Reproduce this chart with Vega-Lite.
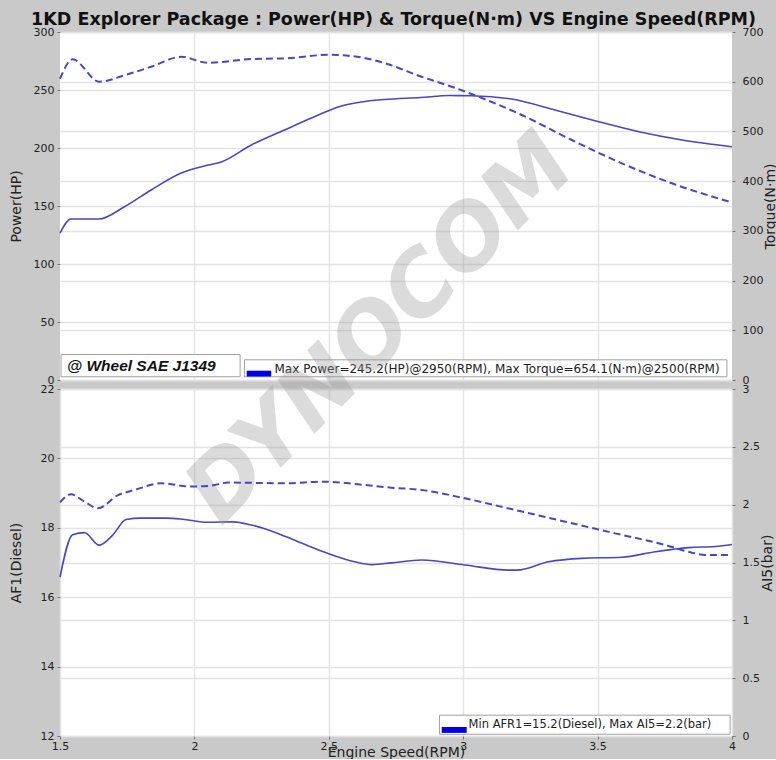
{
  "$schema": "https://vega.github.io/schema/vega-lite/v6.json",
  "background": "#c9c9c9",
  "padding": {"left": 9, "top": 10, "right": 0, "bottom": 0},
  "bounds": "flush",
  "title": {
    "text": "1KD Explorer Package  : Power(HP) & Torque(N·m) VS Engine Speed(RPM)",
    "font": "DejaVu Sans",
    "fontSize": 17.5,
    "fontWeight": "bold",
    "color": "#111111",
    "anchor": "middle",
    "offset": -2
  },
  "datasets": {
    "power": [
      {"rpm": 1.5, "v": 126.7}, {"rpm": 1.541, "v": 138.8}, {"rpm": 1.645, "v": 138.8},
      {"rpm": 1.738, "v": 149.1}, {"rpm": 1.839, "v": 163.8}, {"rpm": 1.951, "v": 178.4},
      {"rpm": 2.051, "v": 185.3}, {"rpm": 2.1, "v": 188.0}, {"rpm": 2.212, "v": 202.6},
      {"rpm": 2.335, "v": 215.5}, {"rpm": 2.461, "v": 228.5}, {"rpm": 2.547, "v": 236.2},
      {"rpm": 2.621, "v": 239.7}, {"rpm": 2.707, "v": 241.8}, {"rpm": 2.84, "v": 243.5},
      {"rpm": 2.95, "v": 245.2}, {"rpm": 3.031, "v": 245.1}, {"rpm": 3.18, "v": 242.2},
      {"rpm": 3.341, "v": 232.8}, {"rpm": 3.49, "v": 223.5}, {"rpm": 3.654, "v": 214.0},
      {"rpm": 3.814, "v": 206.9}, {"rpm": 4.0, "v": 201.1}
    ],
    "torque": [
      {"rpm": 1.5, "v": 606}, {"rpm": 1.547, "v": 645}, {"rpm": 1.646, "v": 600},
      {"rpm": 1.74, "v": 613}, {"rpm": 1.839, "v": 630}, {"rpm": 1.951, "v": 650},
      {"rpm": 2.05, "v": 638}, {"rpm": 2.212, "v": 645.7}, {"rpm": 2.336, "v": 647},
      {"rpm": 2.5, "v": 654.1}, {"rpm": 2.62, "v": 649}, {"rpm": 2.71, "v": 637},
      {"rpm": 2.845, "v": 610}, {"rpm": 2.957, "v": 590}, {"rpm": 3.031, "v": 575.3},
      {"rpm": 3.218, "v": 533}, {"rpm": 3.404, "v": 482.8}, {"rpm": 3.59, "v": 435.9},
      {"rpm": 3.776, "v": 395.7}, {"rpm": 3.989, "v": 358.7}
    ],
    "afr": [
      {"rpm": 1.5, "v": 16.58}, {"rpm": 1.547, "v": 17.8}, {"rpm": 1.591, "v": 17.86},
      {"rpm": 1.646, "v": 17.5}, {"rpm": 1.696, "v": 17.79}, {"rpm": 1.746, "v": 18.24},
      {"rpm": 1.802, "v": 18.28}, {"rpm": 1.895, "v": 18.28}, {"rpm": 1.963, "v": 18.24},
      {"rpm": 2.05, "v": 18.16}, {"rpm": 2.143, "v": 18.17}, {"rpm": 2.212, "v": 18.08},
      {"rpm": 2.286, "v": 17.91}, {"rpm": 2.386, "v": 17.6}, {"rpm": 2.497, "v": 17.26},
      {"rpm": 2.597, "v": 17.02}, {"rpm": 2.659, "v": 16.94}, {"rpm": 2.733, "v": 16.99},
      {"rpm": 2.845, "v": 17.07}, {"rpm": 3.006, "v": 16.93}, {"rpm": 3.168, "v": 16.78},
      {"rpm": 3.2, "v": 16.78}, {"rpm": 3.317, "v": 17.02}, {"rpm": 3.441, "v": 17.12},
      {"rpm": 3.59, "v": 17.15}, {"rpm": 3.714, "v": 17.31}, {"rpm": 3.839, "v": 17.43},
      {"rpm": 3.938, "v": 17.46}, {"rpm": 4.0, "v": 17.52}
    ],
    "ai5": [
      {"rpm": 1.5, "v": 2.02}, {"rpm": 1.541, "v": 2.09}, {"rpm": 1.591, "v": 2.026},
      {"rpm": 1.641, "v": 1.969}, {"rpm": 1.716, "v": 2.083}, {"rpm": 1.777, "v": 2.127},
      {"rpm": 1.876, "v": 2.185}, {"rpm": 1.988, "v": 2.156}, {"rpm": 2.063, "v": 2.165},
      {"rpm": 2.125, "v": 2.191}, {"rpm": 2.336, "v": 2.185}, {"rpm": 2.485, "v": 2.199},
      {"rpm": 2.609, "v": 2.176}, {"rpm": 2.733, "v": 2.147}, {"rpm": 2.845, "v": 2.127},
      {"rpm": 3.006, "v": 2.055}, {"rpm": 3.193, "v": 1.954}, {"rpm": 3.379, "v": 1.853},
      {"rpm": 3.565, "v": 1.752}, {"rpm": 3.752, "v": 1.651}, {"rpm": 3.851, "v": 1.585},
      {"rpm": 3.9, "v": 1.565}, {"rpm": 4.0, "v": 1.565}
    ]
  },
  "config": {
    "view": {"fill": "white", "stroke": null},
    "axis": {
      "labelFont": "DejaVu Sans", "labelFontSize": 11, "labelColor": "#222222",
      "titleFont": "DejaVu Sans", "titleFontSize": 14, "titleFontWeight": "normal", "titleColor": "#222222",
      "domain": false, "tickColor": "#777777", "tickSize": 3,
      "gridColor": "#e3e3e3", "gridWidth": 1.5,
      "labelFlush": false, "labelOverlap": false, "labelBound": false
    }
  },
  "spacing": 9,
  "vconcat": [
    {
      "width": 672, "height": 348,
      "layer": [
        {
          "layer": [
            {
              "data": {"name": "power"},
              "mark": {"type": "line", "color": "#4646c8", "strokeWidth": 1.6, "interpolate": "monotone"},
              "encoding": {
                "x": {"field": "rpm", "type": "quantitative",
                      "scale": {"domain": [1.5, 4], "nice": false, "zero": false},
                      "axis": {"grid": true, "labels": false, "ticks": false, "title": null, "values": [2, 2.5, 3, 3.5]}},
                "y": {"field": "v", "type": "quantitative",
                      "scale": {"domain": [0, 300], "nice": false},
                      "axis": {"orient": "left", "title": "Power(HP)", "values": [0, 50, 100, 150, 200, 250, 300], "grid": true, "labelPadding": 3, "titlePadding": 10}}
              }
            },
            {
              "data": {"values": [{"x1": 1.504, "x2": 2.17, "y1": 2.8, "y2": 22}, {"x1": 2.186, "x2": 3.981, "y1": 2.8, "y2": 17.4}]},
              "mark": {"type": "rect", "fill": "white", "stroke": "#a0a0a0", "strokeWidth": 1},
              "encoding": {
                "x": {"field": "x1", "type": "quantitative"}, "x2": {"field": "x2"},
                "y": {"field": "y1", "type": "quantitative"}, "y2": {"field": "y2"}
              }
            },
            {
              "data": {"values": [{"x1": 2.1945, "x2": 2.2858, "y1": 3.0, "y2": 8.0}]},
              "mark": {"type": "rect", "fill": "#0000e6"},
              "encoding": {
                "x": {"field": "x1", "type": "quantitative"}, "x2": {"field": "x2"},
                "y": {"field": "y1", "type": "quantitative"}, "y2": {"field": "y2"}
              }
            },
            {
              "data": {"values": [{"x": 1.526, "y": 12.2, "t": "@ Wheel SAE J1349"}]},
              "mark": {"type": "text", "align": "left", "baseline": "middle", "font": "Liberation Sans", "fontSize": 15.5, "fontWeight": "bold", "fontStyle": "italic", "color": "#111111"},
              "encoding": {
                "x": {"field": "x", "type": "quantitative"}, "y": {"field": "y", "type": "quantitative"}, "text": {"field": "t"}
              }
            },
            {
              "data": {"values": [{"x": 2.298, "y": 9.5, "t": "Max Power=245.2(HP)@2950(RPM), Max Torque=654.1(N·m)@2500(RPM)"}]},
              "mark": {"type": "text", "align": "left", "baseline": "middle", "font": "DejaVu Sans", "fontSize": 12, "color": "#222222"},
              "encoding": {
                "x": {"field": "x", "type": "quantitative"}, "y": {"field": "y", "type": "quantitative"}, "text": {"field": "t"}
              }
            }
          ]
        },
        {
          "data": {"name": "torque"},
          "mark": {"type": "line", "color": "#4646c8", "strokeWidth": 2, "strokeDash": [7, 4], "interpolate": "monotone"},
          "encoding": {
            "x": {"field": "rpm", "type": "quantitative"},
            "y": {"field": "v", "type": "quantitative",
                  "scale": {"domain": [0, 700], "nice": false},
                  "axis": {"orient": "right", "title": "Torque(N·m)", "titleAngle": 270, "values": [0, 100, 200, 300, 400, 500, 600, 700], "grid": true, "labelPadding": 7, "titlePadding": 15}}
          }
        }
      ],
      "resolve": {"scale": {"y": "independent"}}
    },
    {
      "width": 672, "height": 347,
      "layer": [
        {
          "layer": [
            {
              "data": {"name": "afr"},
              "mark": {"type": "line", "color": "#4646c8", "strokeWidth": 1.6, "interpolate": "monotone"},
              "encoding": {
                "x": {"field": "rpm", "type": "quantitative",
                      "scale": {"domain": [1.5, 4], "nice": false, "zero": false},
                      "axis": {"grid": true, "title": "Engine Speed(RPM)", "values": [1.5, 2, 2.5, 3, 3.5, 4], "format": "~g", "labelPadding": 1, "titleY": 16, "titleBaseline": "middle"}},
                "y": {"field": "v", "type": "quantitative",
                      "scale": {"domain": [12, 22], "nice": false, "zero": false},
                      "axis": {"orient": "left", "title": "AF1(Diesel)", "values": [12, 14, 16, 18, 20, 22], "grid": true, "labelPadding": 3, "titlePadding": 17}}
              }
            },
            {
              "data": {"values": [{"x1": 2.912, "x2": 3.993, "y1": 12.05, "y2": 12.6}]},
              "mark": {"type": "rect", "fill": "white", "stroke": "#a0a0a0", "strokeWidth": 1},
              "encoding": {
                "x": {"field": "x1", "type": "quantitative"}, "x2": {"field": "x2"},
                "y": {"field": "y1", "type": "quantitative"}, "y2": {"field": "y2"}
              }
            },
            {
              "data": {"values": [{"x1": 2.92, "x2": 3.013, "y1": 12.09, "y2": 12.26}]},
              "mark": {"type": "rect", "fill": "#0000e6"},
              "encoding": {
                "x": {"field": "x1", "type": "quantitative"}, "x2": {"field": "x2"},
                "y": {"field": "y1", "type": "quantitative"}, "y2": {"field": "y2"}
              }
            },
            {
              "data": {"values": [{"x": 3.02, "y": 12.32, "t": "Min AFR1=15.2(Diesel), Max AI5=2.2(bar)"}]},
              "mark": {"type": "text", "align": "left", "baseline": "middle", "font": "DejaVu Sans", "fontSize": 11.5, "color": "#222222"},
              "encoding": {
                "x": {"field": "x", "type": "quantitative"}, "y": {"field": "y", "type": "quantitative"}, "text": {"field": "t"}
              }
            },
            {
              "data": {"values": [{"x": 2.696, "y": 23.7, "t": "DYNOCOM"}]},
              "mark": {"type": "text", "align": "center", "baseline": "middle", "angle": -45, "font": "DejaVu Sans", "fontSize": 88, "fontWeight": "bold", "fontStyle": "italic", "color": "#999999", "opacity": 0.35},
              "encoding": {
                "x": {"field": "x", "type": "quantitative"}, "y": {"field": "y", "type": "quantitative"}, "text": {"field": "t"}
              }
            }
          ]
        },
        {
          "data": {"name": "ai5"},
          "mark": {"type": "line", "color": "#4646c8", "strokeWidth": 2, "strokeDash": [7, 4], "interpolate": "monotone"},
          "encoding": {
            "x": {"field": "rpm", "type": "quantitative"},
            "y": {"field": "v", "type": "quantitative",
                  "scale": {"domain": [0, 3], "nice": false},
                  "axis": {"orient": "right", "title": "AI5(bar)", "titleAngle": 270, "values": [0, 0.5, 1, 1.5, 2, 2.5, 3], "format": "~g", "grid": true, "labelPadding": 7, "titlePadding": 15}}
          }
        }
      ],
      "resolve": {"scale": {"y": "independent"}}
    }
  ]
}
